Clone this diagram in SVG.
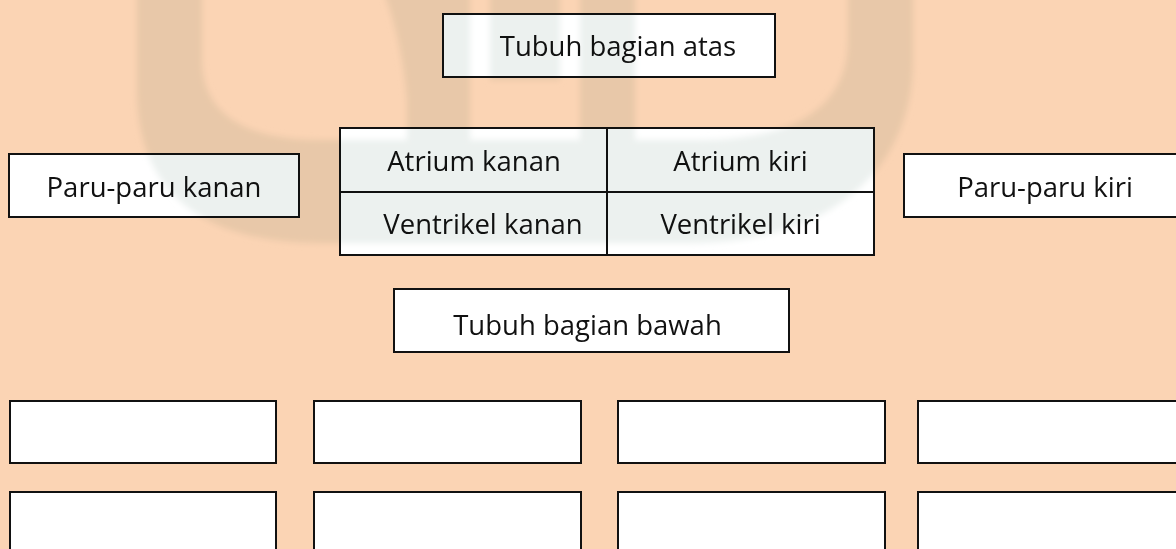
<svg xmlns="http://www.w3.org/2000/svg" width="1176" height="549" viewBox="0 0 1176 549">
  <style>
    .box { fill: #ffffff; stroke: #111111; stroke-width: 2; }
    .line { stroke: #111111; stroke-width: 2; fill: none; }
    .lbl { font-family: "Open Sans", "Noto Sans", "Liberation Sans", sans-serif; font-size: 27.5px; fill: #111111; text-anchor: middle; }
    .wm { fill: #ECF1EF; }
  </style>
  <defs>
    <filter id="soft" x="-5%" y="-5%" width="110%" height="110%">
      <feGaussianBlur stdDeviation="3"/>
    </filter>
  </defs>
  <rect x="0" y="0" width="1176" height="549" fill="#FBD4B4"/>

  <g id="node-tubuh-atas">
    <rect class="box" x="443" y="14" width="332" height="63"/>
    <text class="lbl" x="618" y="56">Tubuh bagian atas</text>
  </g>
  <g id="node-paru-kanan">
    <rect class="box" x="9" y="154" width="290" height="63"/>
    <text class="lbl" x="154" y="197">Paru-paru kanan</text>
  </g>
  <g id="node-jantung">
    <rect class="box" x="340" y="128" width="534" height="127"/>
    <line class="line" x1="607" y1="128" x2="607" y2="255"/>
    <line class="line" x1="340" y1="192" x2="874" y2="192"/>
    <text class="lbl" x="474" y="171">Atrium kanan</text>
    <text class="lbl" x="740.5" y="171">Atrium kiri</text>
    <text class="lbl" x="483" y="234">Ventrikel kanan</text>
    <text class="lbl" x="740.5" y="234">Ventrikel kiri</text>
  </g>
  <g id="node-paru-kiri">
    <rect class="box" x="904" y="154" width="290" height="63"/>
    <text class="lbl" x="1045" y="197">Paru-paru kiri</text>
  </g>
  <g id="node-tubuh-bawah">
    <rect class="box" x="394" y="289" width="395" height="63"/>
    <text class="lbl" x="587.5" y="335">Tubuh bagian bawah</text>
  </g>
  <g id="node-blank-1"><rect class="box" x="10" y="401" width="266" height="62"/></g>
  <g id="node-blank-2"><rect class="box" x="314" y="401" width="267" height="62"/></g>
  <g id="node-blank-3"><rect class="box" x="618" y="401" width="267" height="62"/></g>
  <g id="node-blank-4"><rect class="box" x="918" y="401" width="267" height="62"/></g>
  <g id="node-blank-5"><rect class="box" x="10" y="492" width="266" height="70"/></g>
  <g id="node-blank-6"><rect class="box" x="314" y="492" width="267" height="70"/></g>
  <g id="node-blank-7"><rect class="box" x="618" y="492" width="267" height="70"/></g>
  <g id="node-blank-8"><rect class="box" x="918" y="492" width="267" height="70"/></g>

  <g id="connectors"></g>

  <g id="watermark" style="mix-blend-mode: multiply" filter="url(#soft)">
    <path class="wm" d="M137,-10 V90 C137,190 200,243 320,243 H690 C830,243 913,170 913,60 V-10 H848 V40 C848,110 790,140 700,140 H320 C240,140 202,110 202,60 V-10 Z"/>
    <path class="wm" d="M383,-10 H470 V140 H407 V100 Q402,40 383,-10 Z"/>
    <rect class="wm" x="490" y="-10" width="70" height="90"/>
    <rect class="wm" x="580" y="-10" width="55" height="150"/>
  </g>
</svg>
